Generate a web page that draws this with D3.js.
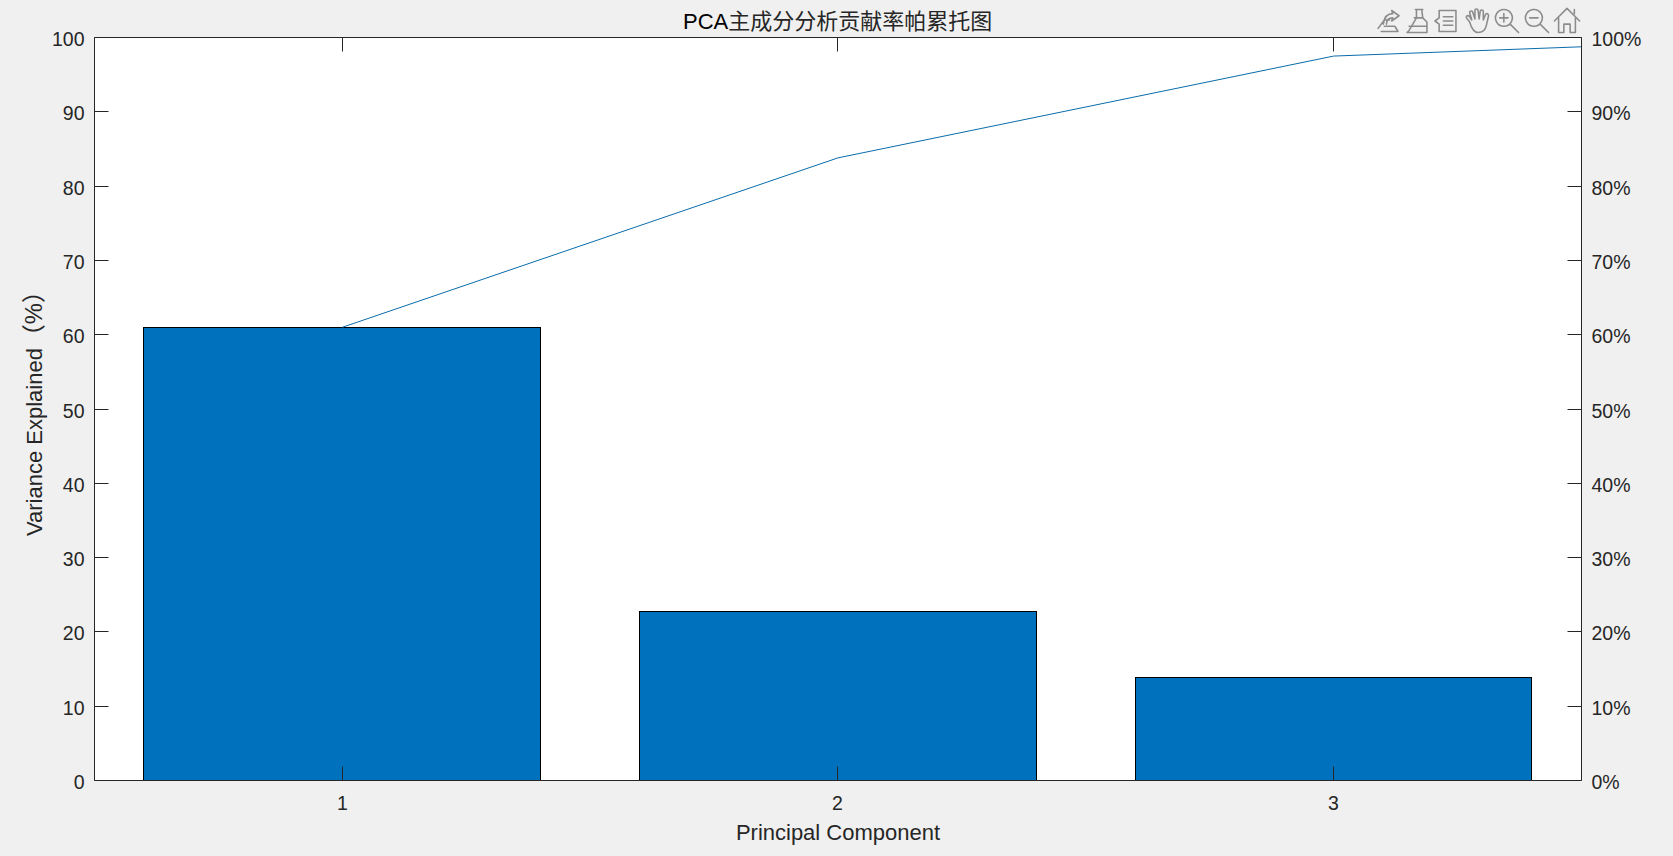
<!DOCTYPE html>
<html><head><meta charset="utf-8">
<script src="https://cdn.jsdelivr.net/npm/d3@7"></script>
<style>
html,body{margin:0;padding:0;background:#f0f0f0;overflow:hidden}
svg{display:block}
text{font-family:"Liberation Sans","Noto Sans CJK SC",sans-serif;fill:#262626}
</style></head><body>
<svg id="c" width="1673" height="856"></svg>
<script>
const components=[1,2,3];
const variance=[61.0,22.8,13.8];
const cumulativeX=[1,2,3,4];
const cumulative=[61.0,83.8,97.5,100];
const leftTicks=[0,10,20,30,40,50,60,70,80,90,100];
const rightTicks=[0,10,20,30,40,50,60,70,80,90,100];
const titleLatin="PCA";
const titleCjk="主成分分析贡献率帕累托图";
const xLabel="Principal Component";
const yLabelLatin="Variance Explained";
const yLabelUnit="（%）";

const L=94,R=1581,T=37,B=780;
const svg=d3.select("#c");
const x=d3.scaleLinear().domain([0.5,3.5]).range([L,R]);
const y=d3.scaleLinear().domain([0,100]).range([B,T]);
const sx=v=>Math.floor(x(v)+0.4)+0.5;
const sy=v=>Math.round(y(v))+0.5;
const ink="#262626",fs="19.5px";

svg.append("rect").attr("x",L).attr("y",T).attr("width",R-L).attr("height",B-T).attr("fill","#fff");
svg.append("clipPath").attr("id","plot").append("rect").attr("x",L).attr("y",T).attr("width",R-L).attr("height",B-T);

svg.selectAll("rect.bar").data(components).join("rect").attr("class","bar")
 .attr("x",d=>sx(d-0.4)).attr("width",d=>sx(d+0.4)-sx(d-0.4))
 .attr("y",(d,i)=>sy(variance[i])).attr("height",(d,i)=>sy(0)-sy(variance[i]))
 .attr("fill","#0072BD").attr("stroke","#000").attr("stroke-width",1);

svg.append("path").datum(cumulative).attr("clip-path","url(#plot)")
 .attr("fill","none").attr("stroke","#0A6CAB").attr("stroke-width",1)
 .attr("d",d3.line().x((d,i)=>x(cumulativeX[i])+0.5).y(d=>y(d)+0.5));

const ay=d3.scaleLinear().domain([0,100]).range([B+0.5,T+0.5]);
const ax=d3.scaleLinear().domain([0.5,3.5]).range([L+0.5,R+0.5]);
function style(g,horizontal){
 g.selectAll(".domain").attr("stroke",ink).attr("stroke-width",1);
 g.selectAll(".tick line").attr("stroke",ink).attr("stroke-width",1);
 g.selectAll(".tick text").style("font-size",fs).attr("fill",ink);
 g.selectAll(".tick").attr("transform",d=>horizontal?`translate(${sx(d)},0)`:`translate(0,${sy(d)})`);
 if(!horizontal) g.selectAll(".tick text").attr("dy",".46em");
}
svg.append("g").attr("transform",`translate(${L+0.5},0)`)
 .call(d3.axisLeft(ay).offset(0).tickValues(leftTicks).tickSize(-14).tickSizeOuter(0).tickPadding(10).tickFormat(d3.format("d"))).call(style,false);
svg.append("g").attr("transform",`translate(${R+0.5},0)`)
 .call(d3.axisRight(ay).offset(0).tickValues(rightTicks).tickSize(-14).tickSizeOuter(0).tickPadding(10).tickFormat(d=>d+"%")).call(style,false);
svg.append("g").attr("transform",`translate(0,${B+0.5})`)
 .call(d3.axisBottom(ax).offset(0).tickValues(components).tickSize(-14).tickSizeOuter(0).tickPadding(16).tickFormat(d3.format("d"))).call(style,true);
svg.append("g").attr("transform",`translate(0,${T+0.5})`)
 .call(d3.axisTop(ax).offset(0).tickValues(components).tickSize(-14).tickSizeOuter(0).tickFormat("")).call(style,true);

const title=svg.append("text").attr("x",683).attr("y",29).style("font-size","22px");
title.append("tspan").style("fill","#000").text(titleLatin);
title.append("tspan").style("fill","#262626").text(titleCjk);
svg.append("text").attr("x",838).attr("y",840).attr("text-anchor","middle").style("font-size","22px").text(xLabel);
const yl=svg.append("text").attr("transform",`translate(42,536) rotate(-90)`).style("font-size","22px");
yl.append("tspan").text(yLabelLatin);
yl.append("tspan").style("font-size","23.8px").text(yLabelUnit);

// figure toolbar icons
const tool=svg.append("g").attr("fill","none").attr("stroke","#8c8c8c").attr("stroke-width",1.5).attr("stroke-linecap","round").attr("stroke-linejoin","round");
const icons=[
 [1387.5,["M-9 7 L-3 -1 L2 -1 M-6 10 L10 10 L7 5 L-3 5","M-4 3 C-3 -5 1 -7 5 -7 L4 -10 L11 -5 L4 0 L5 -3 C1 -3 -1 -1 -1 3"]],
 [1417.5,["M-2 -11 L5 -11 M-1 -11 L-1 -3 L-8 9 L-10 11 L9 11 L9 1 L5 -3 L4 -11 M-8 5 L9 5 M-3 -3 L5 -3"]],
 [1446.5,["M-7 -10 L9 -10 L9 10 L-7 10 L-7 3 L-11 0 L-7 -3 Z M-3 -4 L6 -4 M-3 0 L6 0 M-3 4 L6 4"]],
 [1477,["M-7 1 L-10 -3 C-11 -5 -8 -6 -7 -4 L-5 -1 L-7 -8 C-7 -10 -4 -10 -4 -8 L-2 -2 L-2 -10 C-2 -12 1 -12 1 -10 L2 -2 L3 -9 C3 -11 6 -11 6 -9 L6 -1 L8 -6 C9 -8 11 -7 11 -5 L9 4 C8 9 5 11 1 11 C-3 11 -5 8 -7 1 Z"]],
 [1507,["M-3 -11 A8 8 0 1 0 -2.9 -11 Z M3 3 L11 11 M-7 -3 L1 -3 M-3 -7 L-3 1"]],
 [1537,["M-3 -11 A8 8 0 1 0 -2.9 -11 Z M3 3 L11 11 M-7 -3 L1 -3"]],
 [1567,["M-12 0 L0 -12 L12 0 M-8 -3 L-8 11 L-3 11 L-3 3 L3 3 L3 11 L8 11 L8 -3 M7 -11 L7 -7"]]
];
tool.selectAll("path").data(icons).join("path")
 .attr("transform",d=>`translate(${d[0]},21) scale(1.05)`).attr("d",d=>d[1].join(" "));
</script>
</body></html>
